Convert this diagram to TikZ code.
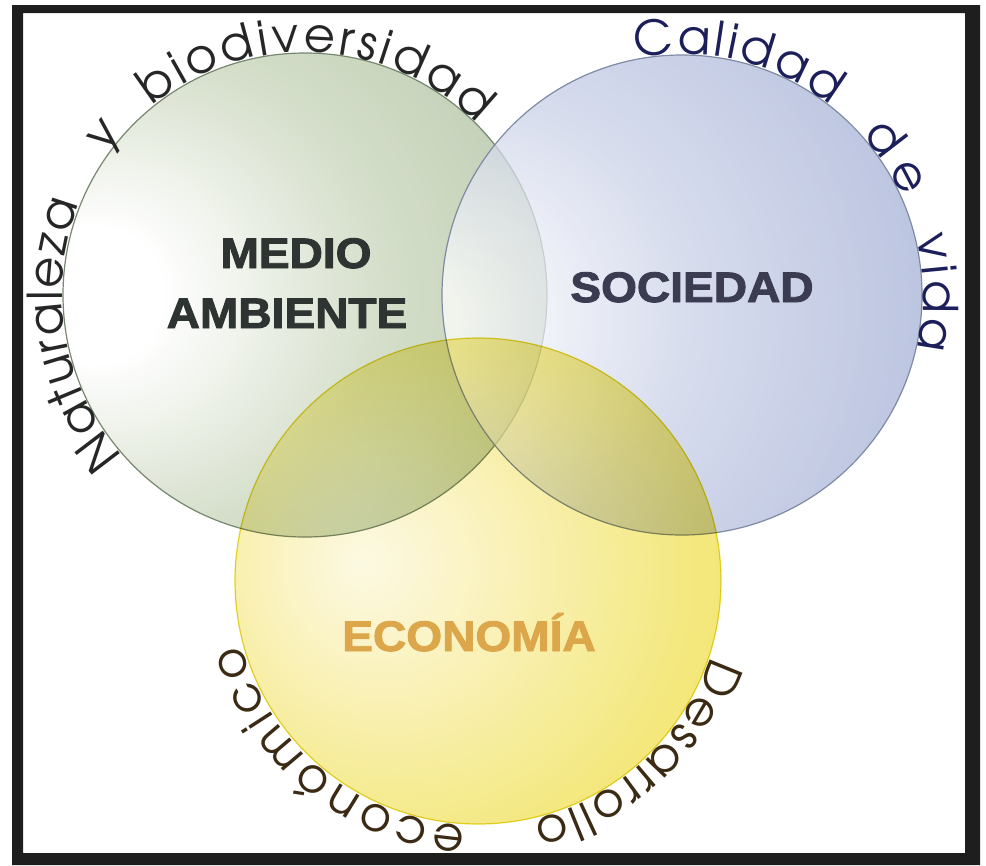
\documentclass[tikz,border=0pt]{standalone}
\usepackage{fontspec}
\usetikzlibrary{calc,decorations.text}

\newfontfamily\heavyfont{Liberation Sans}[FakeStretch=1.08,BoldFeatures={FakeBold=2.2}]
\newfontfamily\rimfont{TeX Gyre Adventor}
\newcommand\rimtype{\rimfont\fontsize{36}{40}\selectfont}

\definecolor{framegray}{HTML}{1E1E1E}
\definecolor{maLight}{HTML}{D3DDC8}
\definecolor{maMid}{HTML}{AABD9B}
\definecolor{maDark}{HTML}{879E77}
\definecolor{maEdge}{HTML}{76866F}
\definecolor{soLight}{HTML}{C9D0E7}
\definecolor{soMid}{HTML}{8E9DCB}
\definecolor{soDark}{HTML}{7A8CC1}
\definecolor{soEdge}{HTML}{7F8AA3}
\definecolor{ecLight}{HTML}{FAF2BE}
\definecolor{ecMid}{HTML}{F2E46A}
\definecolor{ecDark}{HTML}{ECD836}
\definecolor{ecEdge}{HTML}{E6D82E}
\definecolor{maInk}{HTML}{2E3432}
\definecolor{soInk}{HTML}{3B3B52}
\definecolor{ecInk}{HTML}{DCA64A}
\definecolor{rimGray}{HTML}{262626}
\definecolor{rimNavy}{HTML}{1C1F5A}
\definecolor{rimBrown}{HTML}{3B2A14}

\pgfdeclareradialshading{mashade}{\pgfpoint{-24bp}{0bp}}{color(0bp)=(white); color(7bp)=(white); color(24bp)=(maLight); color(52bp)=(maMid); color(76bp)=(maDark)}
\pgfdeclareradialshading{soshade}{\pgfpoint{-30bp}{-3bp}}{color(0bp)=(white); color(5bp)=(white); color(22bp)=(soLight); color(50bp)=(soMid); color(80bp)=(soDark)}
\pgfdeclareradialshading{ecshade}{\pgfpoint{-12bp}{2bp}}{color(0bp)=(ecLight!50!white); color(9bp)=(ecLight); color(30bp)=(ecMid); color(72bp)=(ecDark)}

\tikzset{
  rim/.style={line width=0.9pt},
  rimword/.style={decorate, decoration={text along path, text color=#1}},
  rimtext/.style={rimword=#1, decoration={text align=fit to path}},
  bigword/.style={inner sep=0pt, anchor=base, font=\heavyfont\bfseries\fontsize{32}{36}\selectfont}
}

\begin{document}
\begin{tikzpicture}[x=0.75pt,y=0.75pt,yscale=-1,xscale=1]
\useasboundingbox (0,0) rectangle (986,865);

%Shape: Frame
\fill[framegray, even odd rule] (12,5) rectangle (980,865) (23,13) rectangle (965,853);

\coordinate (ma) at (305,295);
\coordinate (so) at (682,295);
\coordinate (ec) at (478,581);

%Shape: Circle [medio ambiente]
\draw[rim, draw=maEdge, shading=mashade, fill opacity=0.95] (ma) circle[radius=242];
%Shape: Circle [sociedad]
\draw[rim, draw=soEdge, shading=soshade, fill opacity=0.72] (so) circle[radius=240];
%Shape: Circle [economia]
\draw[rim, draw=ecEdge, shading=ecshade, fill opacity=0.88, blend mode=multiply] (ec) circle[radius=243];

% Text Node
\node[bigword, text=maInk] (medio) at (296,268) {MEDIO};
% Text Node
\node[bigword, text=maInk] (ambiente) at (287,328) {AMBIENTE};
% Text Node
\node[bigword, text=soInk] (sociedad) at (692,302) {SOCIEDAD};
% Text Node
\node[bigword, text=ecInk] (economia) at (469,651) {ECONOMÍA};

%Curve Text: green rim
\path[rimtext=rimGray, decoration={text={|\rimtype|Naturaleza}}] ($(ma)+(138.5:243)$) arc[start angle=138.5, end angle=202, radius=243];
\path[rimword=rimGray, decoration={text align=center, text={|\rimtype|y}}] ($(ma)+(211:243)$) arc[start angle=211, end angle=226, radius=243];
\path[rimtext=rimGray, decoration={text={|\rimtype|biodiversidad}}] ($(ma)+(231:243)$) arc[start angle=231, end angle=315, radius=243];
%Curve Text: blue rim
\path[rimtext=rimNavy, decoration={text={|\rimtype|Calidad}}] ($(so)+(259:241)$) arc[start angle=259, end angle=308, radius=241];
\path[rimtext=rimNavy, decoration={text={|\rimtype|de}}] ($(so)+(318.5:241)$) arc[start angle=318.5, end angle=336, radius=241];
\path[rimtext=rimNavy, decoration={text={|\rimtype|vida}}] ($(so)+(346:241)$) arc[start angle=346, end angle=373, radius=241];
%Curve Text: yellow rim
\path[rimtext=rimBrown, decoration={text={|\rimtype|Desarrollo}}] ($(ec)+(18:245)$) arc[start angle=18, end angle=77, radius=245];
\path[rimtext=rimBrown, decoration={text={|\rimtype|económico}}] ($(ec)+(93:245)$) arc[start angle=93, end angle=165, radius=245];

\end{tikzpicture}
\end{document}
